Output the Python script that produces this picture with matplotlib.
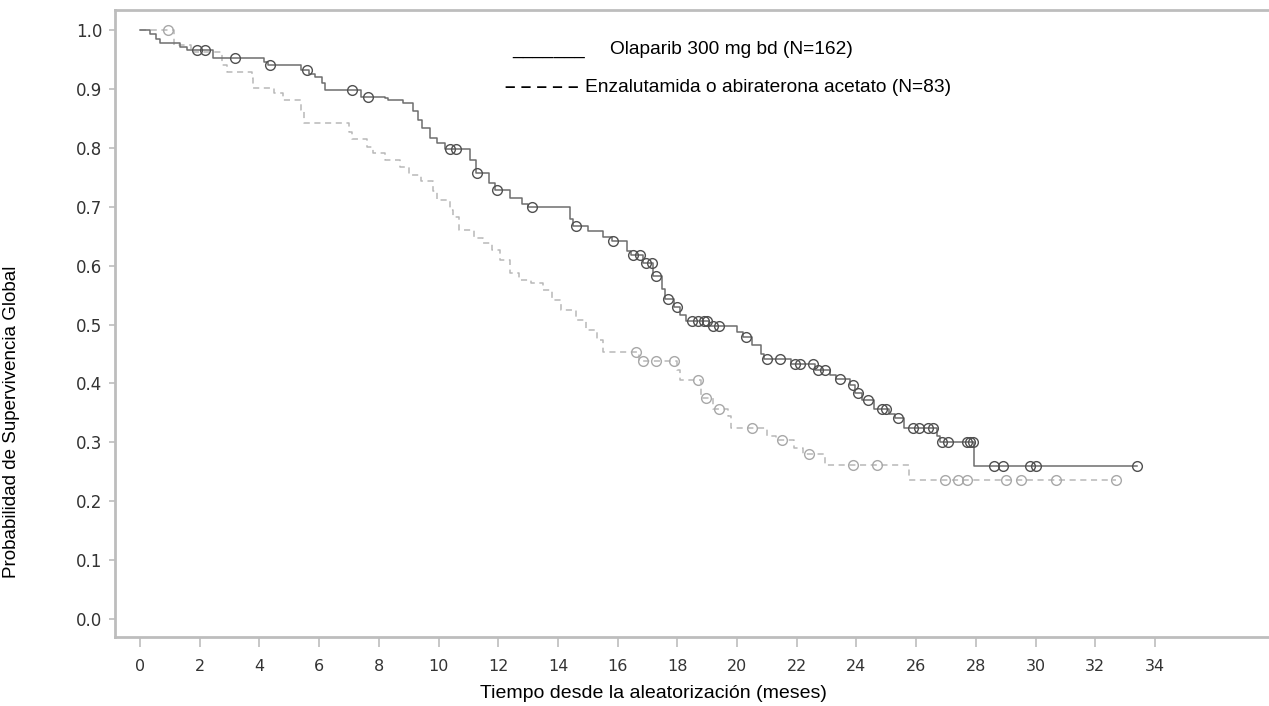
#!/usr/bin/env python3
"""
Kaplan-Meier overall survival: olaparib vs enzalutamide/abiraterone.
Step curves with censor marks, values read off the published figure.
"""

import numpy as np
import matplotlib.pyplot as plt

# Olaparib 300 mg bd (N=162): event times (months) and survival after each step
ola_t = [0.0, 0.33, 0.55, 0.67, 1.34, 1.57, 2.45, 4.15, 4.30, 5.40, 5.65, 5.85,
         6.10, 6.20, 7.40, 8.20, 8.30, 8.80, 9.15, 9.30, 9.45, 9.70, 9.95, 10.20,
         11.05, 11.25, 11.70, 11.90, 12.40, 12.80, 13.00, 14.40, 14.50, 15.00,
         15.50, 15.80, 16.30, 16.45, 16.85, 17.20, 17.50, 17.60, 17.90, 18.10,
         18.30, 19.05, 20.00, 20.20, 20.50, 20.80, 20.90, 21.80, 22.60, 23.10,
         23.30, 23.80, 23.95, 24.20, 24.60, 25.10, 25.30, 25.60, 26.70, 26.80,
         27.95]
ola_s = [1.000, 0.993, 0.985, 0.978, 0.972, 0.966, 0.952, 0.946, 0.940, 0.932,
         0.926, 0.920, 0.910, 0.898, 0.887, 0.884, 0.881, 0.876, 0.862, 0.847,
         0.834, 0.817, 0.808, 0.798, 0.779, 0.757, 0.740, 0.728, 0.714, 0.705,
         0.700, 0.680, 0.667, 0.658, 0.648, 0.641, 0.625, 0.618, 0.604, 0.582,
         0.560, 0.544, 0.529, 0.517, 0.506, 0.497, 0.488, 0.479, 0.465, 0.450,
         0.441, 0.433, 0.422, 0.415, 0.408, 0.397, 0.383, 0.372, 0.357, 0.348,
         0.341, 0.324, 0.310, 0.301, 0.259]
ola_end = 33.4
ola_cens = [1.90, 2.17, 3.18, 4.36, 5.58, 7.09, 7.65, 10.40, 10.60, 11.30, 11.95,
            13.12, 14.60, 15.86, 16.50, 16.75, 16.95, 17.15, 17.30, 17.70, 18.00,
            18.50, 18.70, 18.90, 19.00, 19.20, 19.40, 20.30, 21.00, 21.45, 21.95,
            22.10, 22.55, 22.70, 22.95, 23.45, 23.90, 24.05, 24.40, 24.85, 25.00,
            25.40, 25.90, 26.10, 26.40, 26.55, 26.85, 27.05, 27.70, 27.80, 27.90,
            28.60, 28.90, 29.80, 30.00, 33.40]

# Enzalutamida o abiraterona acetato (N=83)
enz_t = [0.0, 1.15, 1.70, 2.75, 2.90, 3.75, 3.80, 4.50, 4.80, 5.40, 5.50, 7.00,
         7.10, 7.60, 7.80, 8.20, 8.70, 9.00, 9.40, 9.80, 9.95, 10.40, 10.50,
         10.70, 11.20, 11.50, 11.80, 12.05, 12.40, 12.70, 13.10, 13.50, 13.80,
         14.10, 14.60, 14.95, 15.30, 15.50, 16.70, 18.00, 18.10, 18.80, 19.20,
         19.70, 19.80, 21.00, 21.30, 21.90, 22.20, 22.95, 25.75]
enz_s = [1.000, 0.975, 0.963, 0.941, 0.929, 0.918, 0.902, 0.893, 0.881, 0.864,
         0.843, 0.827, 0.815, 0.802, 0.791, 0.779, 0.768, 0.754, 0.743, 0.726,
         0.711, 0.694, 0.683, 0.660, 0.647, 0.638, 0.626, 0.609, 0.587, 0.576,
         0.570, 0.558, 0.542, 0.525, 0.508, 0.491, 0.474, 0.454, 0.438, 0.423,
         0.406, 0.375, 0.357, 0.344, 0.324, 0.310, 0.304, 0.290, 0.281, 0.262,
         0.236]
enz_end = 32.7
enz_cens = [0.95, 16.60, 16.85, 17.30, 17.90, 18.70, 18.95, 19.40, 20.50, 21.50,
            22.40, 23.90, 24.70, 26.97, 27.40, 27.70, 29.00, 29.50, 30.70, 32.70]

x_ticks = list(range(0, 35, 2))
y_ticks = [round(0.1 * i, 1) for i in range(11)]

OLA_LINE = '#6e6e6e'
OLA_MARK = '#505050'
ENZ_LINE = '#b8b8b8'
ENZ_MARK = '#a8a8a8'
AXIS_GRAY = '#bdbdbd'


def level_at(times, surv, when):
    idx = np.searchsorted(np.asarray(times), np.asarray(when), side='right') - 1
    return np.asarray(surv)[idx]


def draw_curve(ax, times, surv, end, cens, line_color, mark_color, ls):
    xs = list(times) + [end]
    ys = list(surv) + [surv[-1]]
    ax.step(xs, ys, where='post', color=line_color, lw=1.1, ls=ls)
    ax.plot(cens, level_at(times, surv, cens), ls='none', marker='o', ms=7,
            mfc='none', mec=mark_color, mew=1.0)


def main():
    plt.rcParams['font.family'] = ['Liberation Sans', 'DejaVu Sans']
    fig = plt.figure(figsize=(12.69, 7.06), dpi=100)
    ax = fig.add_axes([0.0906, 0.0977, 0.9094, 0.8881])

    draw_curve(ax, enz_t, enz_s, enz_end, enz_cens, ENZ_LINE, ENZ_MARK, (0, (4, 3)))
    draw_curve(ax, ola_t, ola_s, ola_end, ola_cens, OLA_LINE, OLA_MARK, '-')

    ax.set_xlim(-0.84, 37.82)
    ax.set_ylim(-0.0306, 1.034)
    ax.set_xticks(x_ticks)
    ax.set_xticklabels([str(v) for v in x_ticks], family='DejaVu Sans',
                       fontsize=11.5, color='#333333')
    ax.set_yticks(y_ticks)
    ax.set_yticklabels([f'{v:.1f}' for v in y_ticks], family='DejaVu Sans',
                       fontsize=12, color='#333333')
    ax.tick_params(axis='y', direction='out', length=4, width=1.2,
                   color=AXIS_GRAY, pad=5)
    ax.tick_params(axis='x', direction='out', length=7, width=1.2,
                   color=AXIS_GRAY, pad=9)

    for side in ('left', 'bottom', 'top'):
        ax.spines[side].set_color(AXIS_GRAY)
        ax.spines[side].set_linewidth(2)
    ax.spines['right'].set_visible(False)

    fig.text(480 / 1269, 1 - 693 / 706, 'Tiempo desde la aleatorización (meses)',
             fontsize=14, ha='left', va='center')
    fig.text(12 / 1269, 1 - 422 / 706, 'Probabilidad de Supervivencia Global',
             fontsize=13.5, rotation=90, ha='center', va='center')

    # text legend, as in the source figure
    fig.text(512 / 1269, 1 - 50 / 706, '_______', fontsize=13.5, ha='left', va='center')
    fig.text(610 / 1269, 1 - 50 / 706, 'Olaparib 300 mg bd (N=162)',
             fontsize=13.8, ha='left', va='center')
    fig.text(505 / 1269, 1 - 88 / 706, '– – – – –', fontsize=13.5, ha='left',
             va='center', fontweight='bold')
    fig.text(585 / 1269, 1 - 88 / 706, 'Enzalutamida o abiraterona acetato (N=83)',
             fontsize=13.8, ha='left', va='center')

    fig.savefig('out.png', dpi=100)
    plt.close(fig)


if __name__ == "__main__":
    main()
